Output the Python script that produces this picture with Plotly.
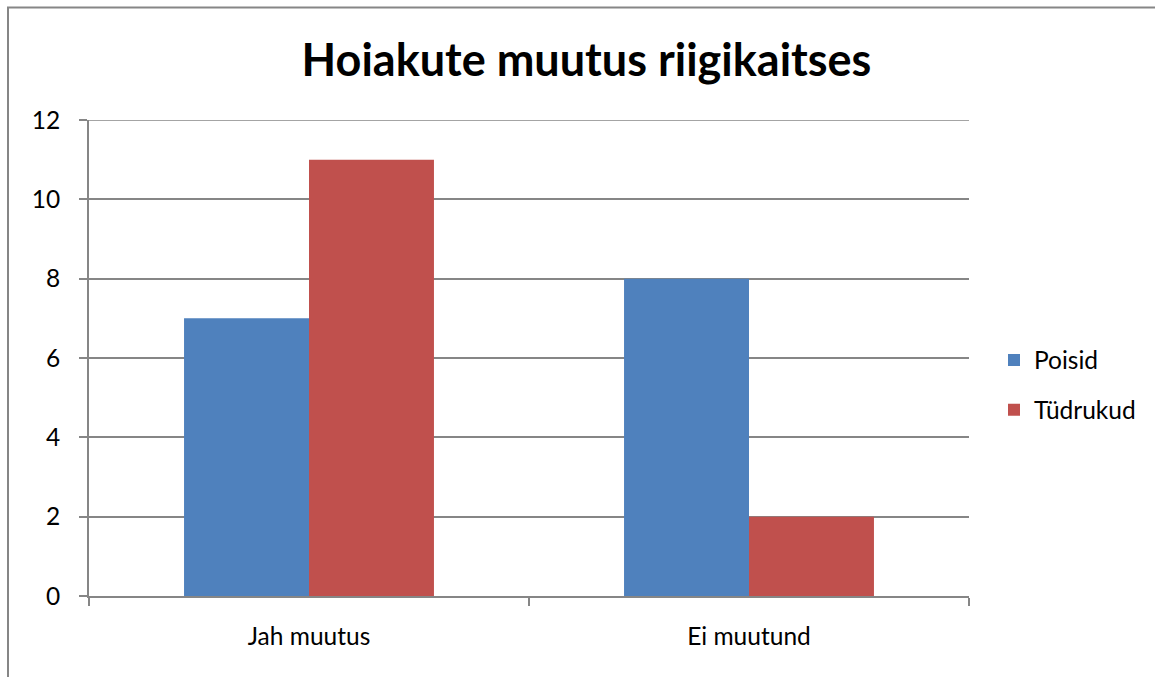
import plotly.graph_objects as go

categories = ["Jah muutus", "Ei muutund"]
poisid = [7, 8]
tudrukud = [11, 2]
series_names = ["Poisid", "Tüdrukud"]
colors = ["#4F81BD", "#C0504D"]
title_text = "Hoiakute muutus riigikaitses"
y_ticks = [0, 2, 4, 6, 8, 10, 12]

W, H = 1155, 677
L, R, T, B = 89, 186, 120, 81
pw, ph = W - L - R, H - T - B

def px_x(px):
    return (px - L) / pw

def px_y(py):
    return (H - B - py) / ph

FONT = "Lato, Open Sans, sans-serif"
GRID = "#868686"

fig = go.Figure()
for i, (name, vals) in enumerate(zip(series_names, [poisid, tudrukud])):
    fig.add_trace(go.Bar(x=categories, y=vals, name=name, marker_color=colors[i],
                         marker_line_width=0, legendgroup=name))

fig.update_layout(
    width=W, height=H,
    margin=dict(l=L, r=R, t=T, b=B, autoexpand=False),
    paper_bgcolor="white", plot_bgcolor="white",
    font=dict(family=FONT, color="#000000", size=24.5),
    title=dict(text="<b>" + title_text + "</b>", x=586.5 / W, xanchor="center",
               y=1 - 60 / H, yanchor="middle",
               font=dict(size=45, family=FONT)),
    bargap=0.432, bargroupgap=0,
    legend=dict(x=px_x(994), y=px_y(385), xanchor="left", yanchor="middle",
                font=dict(size=24.5), tracegroupgap=15, itemwidth=30),
    xaxis=dict(showline=True, linecolor=GRID, linewidth=2, ticks="outside",
               tickson="boundaries", ticklen=8, tickwidth=2, tickcolor=GRID,
               tickfont=dict(size=24.5), showgrid=False, ticklabelstandoff=18),
    yaxis=dict(range=[0, max(y_ticks)], tickvals=y_ticks, showline=True,
               linecolor=GRID, linewidth=2,
               ticks="outside", ticklen=8, tickwidth=2, tickcolor=GRID,
               gridcolor=GRID, gridwidth=1.5, tickfont=dict(size=24.5),
               zeroline=False, ticklabelstandoff=14),
    shapes=[
        dict(type="rect", xref="paper", yref="paper",
             x0=px_x(8), x1=px_x(1170), y0=px_y(690), y1=px_y(7.5),
             line=dict(color=GRID, width=2), fillcolor="rgba(0,0,0,0)",
             layer="below"),
        dict(type="line", xref="paper", yref="y", x0=0, x1=1,
             y0=max(y_ticks), y1=max(y_ticks),
             line=dict(color=GRID, width=1.5), layer="below"),
    ],
)

fig.write_html("out.html", config={"displayModeBar": False},
               post_script="document.body.style.margin='0';")
